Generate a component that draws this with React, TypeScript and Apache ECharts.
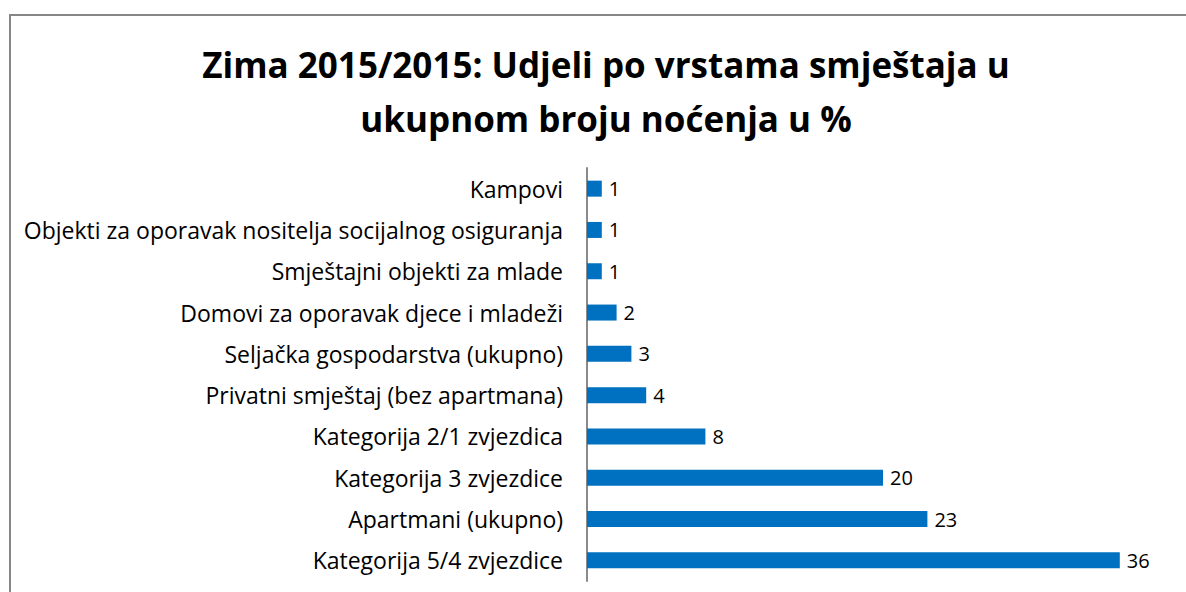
import React, { useEffect, useRef } from "react";
import * as echarts from "echarts";

const categories = [
  "Kampovi",
  "Objekti za oporavak nositelja socijalnog osiguranja",
  "Smještajni objekti za mlade",
  "Domovi za oporavak djece i mladeži",
  "Seljačka gospodarstva (ukupno)",
  "Privatni smještaj (bez apartmana)",
  "Kategorija 2/1 zvjezdica",
  "Kategorija 3 zvjezdice",
  "Apartmani (ukupno)",
  "Kategorija 5/4 zvjezdice",
];
const values = [1, 1, 1, 2, 3, 4, 8, 20, 23, 36];
const titleText = "Zima 2015/2015: Udjeli po vrstama smještaja u\nukupnom broju noćenja u %";

export default function App() {
  const ref = useRef<HTMLDivElement>(null);
  useEffect(() => {
    document.body.style.margin = "0";
    const chart = echarts.init(ref.current!, null, { renderer: "svg" });
    chart.setOption({
      animation: false,
      backgroundColor: "#ffffff",
      title: {
        text: titleText,
        left: 601,
        textAlign: "center",
        top: 32,
        textStyle: {
          fontFamily: "Open Sans",
          fontWeight: "bold",
          fontSize: 35,
          lineHeight: 54,
          color: "#000000",
        },
      },
      graphic: [
        {
          type: "rect",
          shape: { x: 10, y: 15, width: 1300, height: 700 },
          style: { fill: "none", stroke: "#878787", lineWidth: 2 },
          silent: true,
        },
      ],
      grid: { left: 587, top: 168, width: 592, height: 413 },
      xAxis: {
        type: "value",
        min: 0,
        max: 40,
        show: false,
      },
      yAxis: {
        type: "category",
        data: categories,
        inverse: true,
        axisLine: { show: true, lineStyle: { color: "#8a8a8a", width: 2 } },
        axisTick: { show: false },
        axisLabel: {
          margin: 24,
          fontFamily: "Open Sans",
          fontSize: 23,
          color: "#000000",
        },
      },
      series: [
        {
          type: "bar",
          data: values,
          barWidth: 16,
          itemStyle: { color: "#0070C0" },
          label: {
            show: true,
            position: "right",
            distance: 7,
            fontFamily: "Open Sans",
            fontSize: 20,
            color: "#000000",
          },
        },
      ],
    });
    return () => chart.dispose();
  }, []);
  return <div ref={ref} style={{ width: 1186, height: 592, position: "fixed", left: 0, top: 0 }} />;
}
